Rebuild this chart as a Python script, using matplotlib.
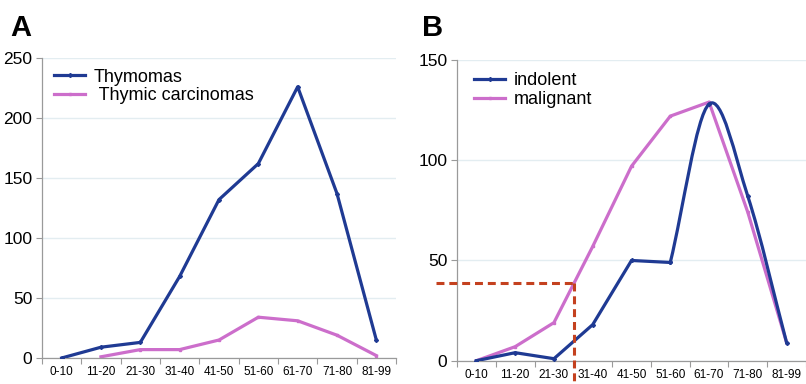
import matplotlib.pyplot as plt
import numpy as np
from matplotlib.path import Path
from matplotlib.patches import PathPatch
from matplotlib.lines import Line2D

plt.rcParams['font.family'] = ['Liberation Sans', 'DejaVu Sans']

# Data
age_groups = ['0-10', '11-20', '21-30', '31-40', '41-50', '51-60', '61-70', '71-80', '81-99']
thymomas = [0, 9, 13, 68, 132, 162, 226, 137, 15]
carcinomas = [np.nan, 1, 7, 7, 15, 34, 31, 19, 2]
indolent = [0, 4, 1, 18, 50, 49, 128, 82, 9]
malignant = [0, 7, 19, 57, 97, 122, 129, 74, 9]
cutoff_age_pos = 2.52   # between 21-30 and 31-40
cutoff_value = 39

BLUE = '#1f3a93'
PINK = '#cc6ecb'
RED = '#c4411f'
GRID = '#e3edf1'
SPINE = '#9a9a9a'

W, H = 806, 384
fig = plt.figure(figsize=(W / 100, H / 100), dpi=100)


def px_axes(left, top, right, bottom):
    return fig.add_axes([left / W, 1 - bottom / H, (right - left) / W, (bottom - top) / H])


def style(ax, ymax, step):
    n = len(age_groups)
    x = np.arange(n)
    ax.set_ylim(0, ymax)
    ax.set_yticks(np.arange(0, ymax + 1, step))
    ax.set_xticks(np.arange(-0.5, n, 1.0))
    ax.set_xticklabels([])
    ax.set_xticks(x, minor=True)
    ax.set_xticklabels(age_groups, minor=True, fontsize=8.5)
    ax.tick_params(axis='x', which='major', length=4, color=SPINE)
    ax.tick_params(axis='x', which='minor', length=0, pad=6)
    ax.tick_params(axis='y', length=4, color=SPINE, labelsize=12.5, pad=3)
    for s in ['top', 'right']:
        ax.spines[s].set_visible(False)
    for s in ['left', 'bottom']:
        ax.spines[s].set_color(SPINE)
        ax.spines[s].set_linewidth(0.9)
    ax.yaxis.grid(True, color=GRID, linewidth=1.0)
    ax.set_axisbelow(True)


x = np.arange(len(age_groups))

# ---- Panel A ----
axA = px_axes(42, 58, 396, 358)
axA.set_xlim(-0.5, 8.5)
style(axA, 250, 50)
axA.plot(x, thymomas, color=BLUE, lw=2.3, marker='D', ms=2, label='Thymomas', zorder=3)
axA.plot(x, carcinomas, color=PINK, lw=2.3, marker='s', ms=2, label=' Thymic carcinomas', zorder=2)
axA.legend(loc='upper left', bbox_to_anchor=(0.035, 0.965), frameon=False, fontsize=13,
           handlelength=1.7, handletextpad=0.5, labelspacing=0.1, borderpad=0, borderaxespad=0)

# ---- Panel B ----
axB = px_axes(457, 60, 806, 360.7)
axB.set_xlim(-0.5, -0.5 + 349 / 39.3)
style(axB, 150, 50)

axB.plot(x, malignant, color=PINK, lw=2.3, marker='s', ms=2, zorder=2)

# indolent: straight up to 51-60, smoothed from there on
k0 = 5
axB.plot(x[:k0 + 1], indolent[:k0 + 1], color=BLUE, lw=2.3, marker='D', ms=2, zorder=3)
pts = np.column_stack([x[k0:], indolent[k0:]]).astype(float)
tang = np.zeros_like(pts)
tang[0] = pts[1] - pts[0]
tang[-1] = pts[-1] - pts[-2]
tang[1:-1] = (pts[2:] - pts[:-2]) / 2
verts = [pts[0]]
codes = [Path.MOVETO]
for i in range(len(pts) - 1):
    verts += [pts[i] + tang[i] / 3, pts[i + 1] - tang[i + 1] / 3, pts[i + 1]]
    codes += [Path.CURVE4] * 3
axB.add_patch(PathPatch(Path(verts, codes), fill=False, edgecolor=BLUE, lw=2.3, zorder=3,
                        capstyle='round', joinstyle='round'))
axB.plot(x[k0:], indolent[k0:], linestyle='none', color=BLUE, marker='D', ms=2, zorder=3)

handles = [Line2D([], [], color=BLUE, lw=2.3, marker='D', ms=2),
           Line2D([], [], color=PINK, lw=2.3, marker='s', ms=2)]
axB.legend(handles, ['indolent', 'malignant'], loc='upper left', bbox_to_anchor=(0.05, 0.96),
           frameon=False, fontsize=13, handlelength=1.7, handletextpad=0.5,
           labelspacing=0.1, borderpad=0, borderaxespad=0)

# cut-off guide lines
axB.plot([-1.04, cutoff_age_pos], [cutoff_value, cutoff_value], color=RED, lw=2.2,
         dashes=[2.6, 1.6], clip_on=False, zorder=4)
axB.plot([cutoff_age_pos, cutoff_age_pos], [cutoff_value, -12], color=RED, lw=2.2,
         dashes=[2.6, 1.6], clip_on=False, zorder=4)

fig.text(10 / W, 1 - 36.5 / H, 'A', fontsize=21, fontweight='bold', va='baseline')
fig.text(422 / W, 1 - 36.5 / H, 'B', fontsize=21, fontweight='bold', va='baseline')

fig.savefig('out.png', dpi=100)
